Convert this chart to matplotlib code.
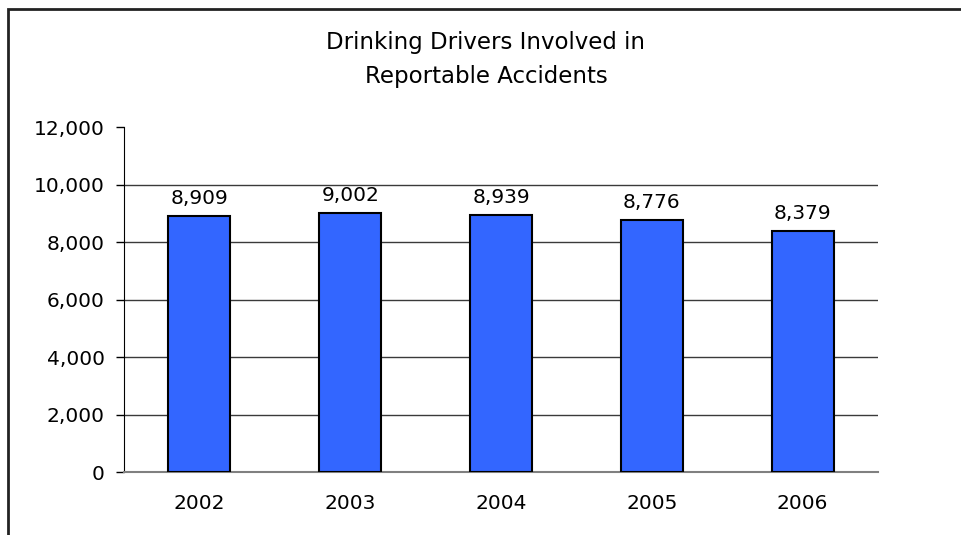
import matplotlib.pyplot as plt
from matplotlib.patches import Rectangle

years = ["2002", "2003", "2004", "2005", "2006"]
drivers = [8909, 9002, 8939, 8776, 8379]
yticks = [0, 2000, 4000, 6000, 8000, 10000, 12000]

plt.rcParams['font.family'] = ['DejaVu Sans']

W, H = 961, 535
fig = plt.figure(figsize=(W / 100, H / 100), dpi=100)
ax = fig.add_axes([124 / W, 1 - 472 / H, 754 / W, 345 / H])

x = range(len(years))
ax.bar(x, drivers, width=0.41, color="#3366FF", edgecolor="black", linewidth=1.5, zorder=3)

# value labels sit about 12 px above each bar
for i, v in enumerate(drivers):
    ax.text(i, v + 420, f"{v:,}", ha="center", va="baseline", fontsize=14.5)

ax.set_xlim(-0.5, len(years) - 0.5)
ax.set_ylim(0, 12000)
ax.set_yticks(yticks)
ax.set_yticklabels([f"{t:,}" for t in yticks], fontsize=14.5)
ax.set_xticks(list(x))
ax.set_xticklabels(years, fontsize=14.5)
ax.tick_params(axis="x", length=0, pad=16)
ax.tick_params(axis="y", length=6, width=1, color="black", pad=8)

for t in yticks[1:-1]:
    ax.axhline(t, color="#3a3a3a", linewidth=1, zorder=1)

for s in ["top", "right"]:
    ax.spines[s].set_visible(False)
ax.spines["left"].set_color("black")
ax.spines["bottom"].set_color("#808080")
ax.spines["bottom"].set_linewidth(1.5)

fig.text(486 / W, 1 - 48.5 / H, "Drinking Drivers Involved in", ha="center", va="baseline", fontsize=16.5)
fig.text(486 / W, 1 - 83 / H, "Reportable Accidents", ha="center", va="baseline", fontsize=16.5)

# outer chart frame, cut off on the right and bottom
fig.patches.append(Rectangle((8 / W, -0.1), 1.1, 1 - 9 / H + 0.1, transform=fig.transFigure,
                             fill=False, edgecolor="#222222", linewidth=2))

fig.savefig("out.png", dpi=100)
